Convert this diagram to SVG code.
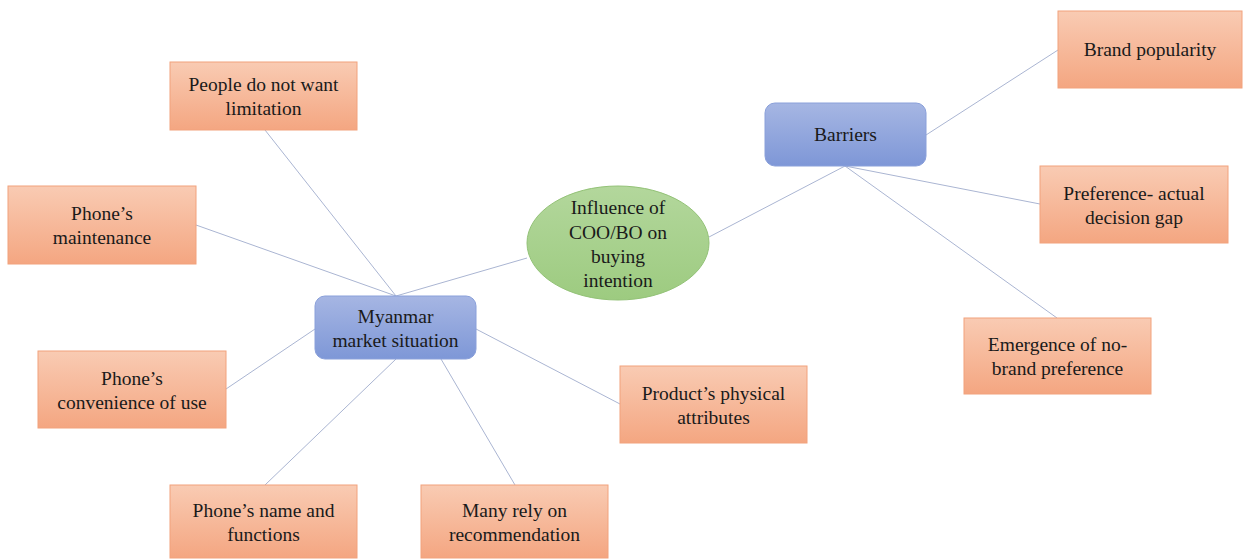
<svg xmlns="http://www.w3.org/2000/svg" width="1243" height="559" viewBox="0 0 1243 559">
<defs>
<linearGradient id="og" x1="0" y1="0" x2="0" y2="1">
<stop offset="0" stop-color="#f9cbb3"/>
<stop offset="1" stop-color="#f4a681"/>
</linearGradient>
<linearGradient id="bg" x1="0" y1="0" x2="0" y2="1">
<stop offset="0" stop-color="#a6b6e3"/>
<stop offset="1" stop-color="#7e97d7"/>
</linearGradient>
<linearGradient id="gg" x1="0" y1="0" x2="0" y2="1">
<stop offset="0" stop-color="#b3d79c"/>
<stop offset="1" stop-color="#9dcb80"/>
</linearGradient>
</defs>
<style>
.o{fill:url(#og);stroke:#f2a27c;stroke-width:1}
.b{fill:url(#bg);stroke:#8aa0da;stroke-width:1}
.g{fill:url(#gg);stroke:#93c277;stroke-width:1}
.t{font-family:'Liberation Serif','DejaVu Serif',serif;font-size:19.5px;fill:#1a1a1a;text-anchor:middle}
.c line{stroke:#aab5d2;stroke-width:1}
</style>
<rect width="1243" height="559" fill="#ffffff"/>
<g class="c" id="connectors">
<line x1="265" y1="130" x2="396" y2="296"/>
<line x1="196" y1="225" x2="396" y2="296"/>
<line x1="226" y1="389" x2="315" y2="329"/>
<line x1="265" y1="485" x2="396" y2="359"/>
<line x1="515" y1="485" x2="441" y2="359"/>
<line x1="620" y1="404" x2="476" y2="329"/>
<line x1="396" y1="296" x2="527" y2="258"/>
<line x1="709" y1="237" x2="845" y2="166"/>
<line x1="926" y1="135" x2="1058" y2="50"/>
<line x1="845" y1="166" x2="1040" y2="204"/>
<line x1="845" y1="166" x2="1057" y2="318"/>
</g>
<g id="people" class="t">
<rect class="o" x="170" y="62" width="187" height="68"/>
<text x="263.5" y="91">People do not want</text>
<text x="263.5" y="115">limitation</text>
</g>
<g id="maintenance" class="t">
<rect class="o" x="8" y="186" width="188" height="78"/>
<text x="102" y="220">Phone’s</text>
<text x="102" y="244">maintenance</text>
</g>
<g id="convenience" class="t">
<rect class="o" x="38" y="351" width="188" height="77"/>
<text x="132" y="385">Phone’s</text>
<text x="132" y="409">convenience of use</text>
</g>
<g id="namefunctions" class="t">
<rect class="o" x="170" y="485" width="187" height="73"/>
<text x="263.5" y="517">Phone’s name and</text>
<text x="263.5" y="541">functions</text>
</g>
<g id="recommendation" class="t">
<rect class="o" x="421" y="485" width="187" height="73"/>
<text x="514.5" y="517">Many rely on</text>
<text x="514.5" y="541">recommendation</text>
</g>
<g id="physical" class="t">
<rect class="o" x="620" y="366" width="187" height="77"/>
<text x="713.5" y="400">Product’s physical</text>
<text x="713.5" y="424">attributes</text>
</g>
<g id="myanmar" class="t">
<rect class="b" x="315" y="296" width="161" height="63" rx="10"/>
<text x="395.5" y="323">Myanmar</text>
<text x="395.5" y="347">market situation</text>
</g>
<g id="influence" class="t">
<ellipse class="g" cx="618" cy="243" rx="91" ry="57"/>
<text x="618" y="214">Influence of</text>
<text x="618" y="239">COO/BO  on</text>
<text x="618" y="263">buying</text>
<text x="618" y="287">intention</text>
</g>
<g id="barriers" class="t">
<rect class="b" x="765" y="103" width="161" height="63" rx="10"/>
<text x="845.5" y="141">Barriers</text>
</g>
<g id="brand" class="t">
<rect class="o" x="1058" y="11" width="184" height="77"/>
<text x="1150" y="56">Brand  popularity</text>
</g>
<g id="preference" class="t">
<rect class="o" x="1040" y="166" width="188" height="77"/>
<text x="1134" y="200">Preference-  actual</text>
<text x="1134" y="224">decision gap</text>
</g>
<g id="emergence" class="t">
<rect class="o" x="964" y="318" width="187" height="76"/>
<text x="1057.5" y="351">Emergence  of no-</text>
<text x="1057.5" y="375">brand preference</text>
</g>
</svg>
